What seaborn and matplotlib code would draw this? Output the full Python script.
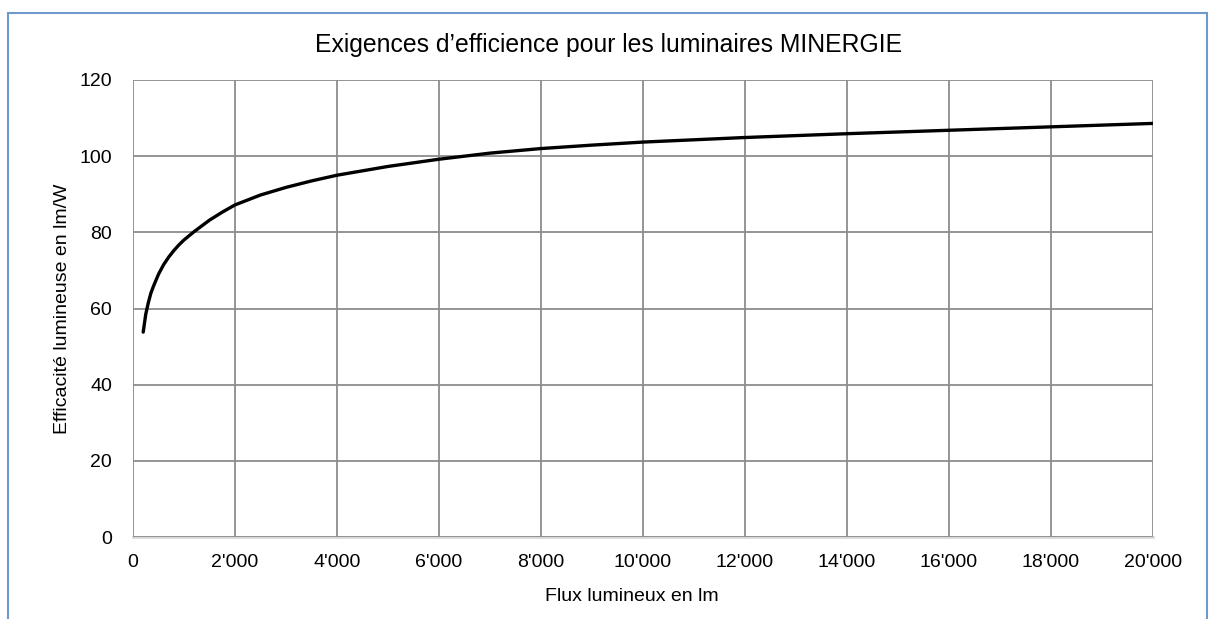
import pandas as pd
import seaborn as sns
import matplotlib.pyplot as plt
import matplotlib.ticker as mticker
from matplotlib.patches import Rectangle

# Valeurs (flux en lm, efficacité en lm/W)
flux_lm = [200, 250, 300, 350, 400, 500, 600, 700, 800, 900, 1000, 1200,
           1500, 1750, 2000, 2500, 3000, 3500, 4000, 5000, 6000, 7000,
           8000, 9000, 10000, 12000, 14000, 16000, 18000, 20000]
efficacite_lmw = [53.8, 58.5, 61.5, 64.0, 65.8, 69.0, 71.5, 73.5, 75.2,
                  76.7, 78.0, 80.2, 83.2, 85.3, 87.2, 89.8, 91.8, 93.5,
                  95.0, 97.3, 99.2, 100.8, 102.0, 102.9, 103.7, 104.9,
                  105.9, 106.8, 107.7, 108.6]

x_ticks = list(range(0, 20001, 2000))
y_ticks = list(range(0, 121, 20))

titre = "Exigences d\u2019efficience pour les luminaires MINERGIE"
label_x = "Flux lumineux en lm"
label_y = "Efficacité lumineuse en lm/W"

df = pd.DataFrame({'flux': flux_lm, 'eff': efficacite_lmw})

sns.set_theme(style="white")
plt.rcParams['font.family'] = ['Liberation Sans', 'DejaVu Sans']

fig = plt.figure(figsize=(12.11, 6.19), dpi=100)
ax = fig.add_axes([133 / 1211, 1 - 537 / 619, 1020 / 1211, 457 / 619])

sns.lineplot(data=df, x='flux', y='eff', color='black', linewidth=2.4,
             solid_capstyle='round', ax=ax)

ax.set_xlim(0, 20000)
ax.set_ylim(0, 120)
ax.set_xticks(x_ticks)
ax.set_yticks(y_ticks)
ax.xaxis.set_major_formatter(mticker.FuncFormatter(
    lambda v, p: f"{int(v):,}".replace(",", "'")))

ax.grid(True, color='#8c8c8c', linewidth=1.3)
ax.set_axisbelow(True)
for s in ['top', 'right', 'left']:
    ax.spines[s].set_visible(False)
ax.spines['bottom'].set_color('#d9d9d9')
ax.spines['bottom'].set_linewidth(2)
ax.spines['bottom'].set_zorder(0.5)

ax.tick_params(axis='both', length=0, labelsize=14, labelcolor='black')
ax.tick_params(axis='x', pad=12)
ax.tick_params(axis='y', pad=15)

ax.set_xlabel(label_x, fontsize=14, color='black')
ax.set_ylabel(label_y, fontsize=14, color='black')
ax.xaxis.set_label_coords(0.489, -0.111)
ax.yaxis.set_label_coords(-0.061, 0.5)

fig.text(609 / 1211, 1 - 45 / 619, titre, ha='center', va='center',
         fontsize=17.8, color='black')

# cadre bleu autour du graphique
fig.patches.append(Rectangle((8 / 1211, -0.05), 1199 / 1211, 1.05 - 13 / 619,
                             transform=fig.transFigure, fill=False,
                             edgecolor='#6f97d0', linewidth=1.5))

fig.savefig('out.png', dpi=100)
